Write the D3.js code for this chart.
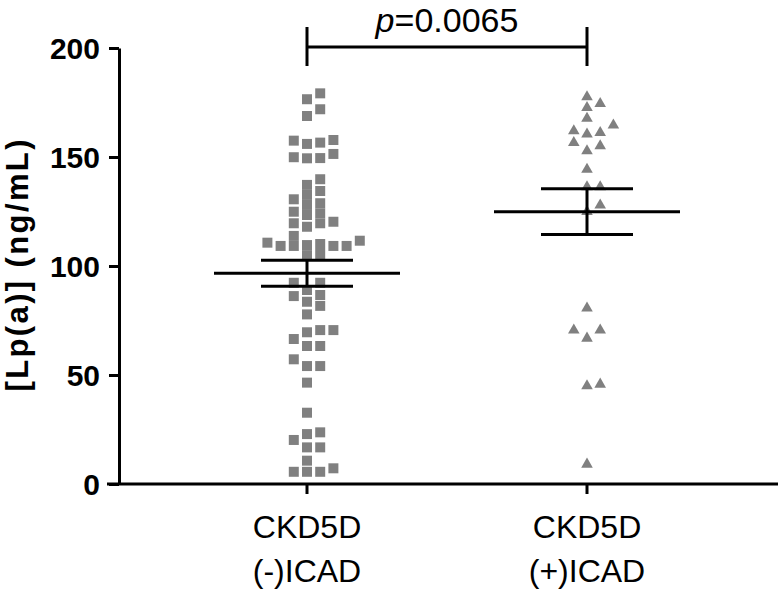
<!DOCTYPE html>
<html>
<head>
<meta charset="utf-8">
<script src="https://cdn.jsdelivr.net/npm/d3@7"></script>
<style>
  html, body { margin: 0; padding: 0; background: #fff; }
  svg { display: block; }
  text { font-family: "Liberation Sans", Arial, Helvetica, sans-serif; fill: #000; }
</style>
</head>
<body>
<svg id="chart" width="780" height="593"></svg>
<script>
// ---- data ----
const categories = ["neg", "pos"];
const categoryLabels = [["CKD5D", "(-)ICAD"], ["CKD5D", "(+)ICAD"]];
const yTicks = [0, 50, 100, 150, 200];
const yTitle = "[Lp(a)] (ng/mL)";
const pLabelItalic = "p";
const pLabelRest = "=0.0065";

// CKD5D (-)ICAD  (squares)
const valuesNeg = [
  179.2, 176.5, 171.9, 168.8,
  157.5, 156.0, 156.6, 157.8, 151.4, 149.5, 149.4, 149.9,
  139.8, 137.2, 134.4, 132.6, 130.6, 128.8, 128.0, 124.2, 124.9, 123.4,
  120.3, 119.6, 119.6, 118.0, 113.8,
  110.1, 109.2, 109.2, 110.7, 111.6, 109.2, 109.2, 109.6,
  105.5, 105.0,
  92.3, 92.3, 89.0, 86.2, 86.7, 83.6, 81.7, 77.8,
  70.6, 69.6, 70.6, 66.5, 63.3, 63.3, 57.2, 54.1, 54.1,
  46.5, 32.7, 22.9, 23.7, 20.2, 16.8, 16.8, 10.7,
  5.6, 5.6, 5.6, 7.2
];
// CKD5D (+)ICAD  (triangles)
const valuesPos = [
  178.0, 174.9, 173.1, 168.2, 165.1, 162.4, 160.9, 161.6, 157.0, 155.5,
  153.2, 144.8, 136.7, 136.7, 128.4, 125.4,
  81.1, 71.0, 71.0, 67.3, 46.2, 45.4, 9.5
];
const groupValues = [valuesNeg, valuesPos];

// ---- layout ----
const svg = d3.select("#chart");
const W = 780, H = 593;
svg.append("rect").attr("width", W).attr("height", H).attr("fill", "#fff");

const y = d3.scaleLinear().domain([0, 200]).range([484, 48]);
const x = d3.scalePoint().domain(categories).range([307, 587]);
const axisX0 = 107, axisX1 = 778, yAxisX = 119;
const markerColor = "#808080";

// y axis
const yAxis = svg.append("g")
  .attr("transform", `translate(${yAxisX},0)`)
  .call(d3.axisLeft(y).tickValues(yTicks).tickSize(10).tickSizeOuter(0).tickPadding(9));
yAxis.select(".domain").attr("stroke", "#000").attr("stroke-width", 3);
yAxis.selectAll(".tick line").attr("stroke", "#000").attr("stroke-width", 3);
yAxis.selectAll(".tick text")
  .attr("font-family", '"Liberation Sans", Arial, sans-serif')
  .attr("font-size", 30).attr("font-weight", "bold").attr("fill", "#000")
  .attr("dy", "0.36em");

// x axis
const xAxis = svg.append("g").attr("transform", `translate(0,${y(0)})`);
xAxis.append("line")
  .attr("x1", axisX0).attr("x2", axisX1)
  .attr("stroke", "#000").attr("stroke-width", 3);
xAxis.selectAll(".xt").data(categories).join("line")
  .attr("x1", d => x(d)).attr("x2", d => x(d))
  .attr("y1", 0).attr("y2", 10)
  .attr("stroke", "#000").attr("stroke-width", 3);
const xl = xAxis.selectAll(".xl").data(categories).join("text")
  .attr("text-anchor", "middle")
  .attr("font-size", 32);
xl.each(function(d, i) {
  const t = d3.select(this);
  categoryLabels[i].forEach((line, j) => {
    t.append("tspan").attr("x", x(d)).attr("y", 54 + j * 44).text(line);
  });
});

// y title
svg.append("text")
  .attr("transform", "translate(28,265.5) rotate(-90)")
  .attr("text-anchor", "middle")
  .attr("font-size", 31).attr("font-weight", "bold")
  .attr("textLength", 252).attr("lengthAdjust", "spacing")
  .text(yTitle);

// beeswarm layout
function swarm(values, cx) {
  const slot = 6.6, box = 10;
  const order = values.map((v, i) => i).sort((a, b) => values[a] - values[b]);
  const placed = [];
  const out = new Array(values.length);
  order.forEach(i => {
    const py = y(values[i]);
    for (let k = 0; k < 60; k++) {
      const off = k === 0 ? 0 : (k % 2 ? 1 : -1) * Math.ceil(k / 2);
      const px = cx + off * slot;
      const hit = placed.some(p => Math.abs(p.x - px) < box - 0.01 && Math.abs(p.y - py) < box - 0.01);
      if (!hit) { placed.push({x: px, y: py}); out[i] = {x: px, y: py}; break; }
    }
  });
  return out;
}

const symbols = [d3.symbol().type(d3.symbolSquare).size(100), d3.symbol().type(d3.symbolTriangle).size(58)];
categories.forEach((c, gi) => {
  const pts = swarm(groupValues[gi], x(c));
  svg.append("g").selectAll("path").data(pts).join("path")
    .attr("d", symbols[gi]())
    .attr("transform", d => `translate(${d.x},${d.y + (gi === 1 ? 1 : 0)})`)
    .attr("fill", markerColor);
});

// mean +/- SEM
categories.forEach((c, gi) => {
  const vals = groupValues[gi];
  const m = d3.mean(vals);
  const sem = d3.deviation(vals) / Math.sqrt(vals.length);
  const cx = x(c);
  const g = svg.append("g").attr("stroke", "#000").attr("stroke-width", 3);
  g.append("line").attr("x1", cx - 93).attr("x2", cx + 93).attr("y1", y(m)).attr("y2", y(m));
  g.append("line").attr("x1", cx).attr("x2", cx).attr("y1", y(m - sem)).attr("y2", y(m + sem));
  g.append("line").attr("x1", cx - 46).attr("x2", cx + 46).attr("y1", y(m + sem)).attr("y2", y(m + sem));
  g.append("line").attr("x1", cx - 46).attr("x2", cx + 46).attr("y1", y(m - sem)).attr("y2", y(m - sem));
});

// significance bracket
const br = svg.append("g").attr("stroke", "#000").attr("stroke-width", 3);
const bx0 = x(categories[0]), bx1 = x(categories[1]);
br.append("line").attr("x1", bx0).attr("x2", bx1).attr("y1", 47).attr("y2", 47);
br.append("line").attr("x1", bx0).attr("x2", bx0).attr("y1", 27).attr("y2", 66);
br.append("line").attr("x1", bx1).attr("x2", bx1).attr("y1", 27).attr("y2", 66);
const pt = svg.append("text")
  .attr("x", (bx0 + bx1) / 2).attr("y", 32)
  .attr("text-anchor", "middle").attr("font-size", 34);
pt.append("tspan").attr("font-style", "italic").text(pLabelItalic);
pt.append("tspan").text(pLabelRest);
</script>
</body>
</html>
